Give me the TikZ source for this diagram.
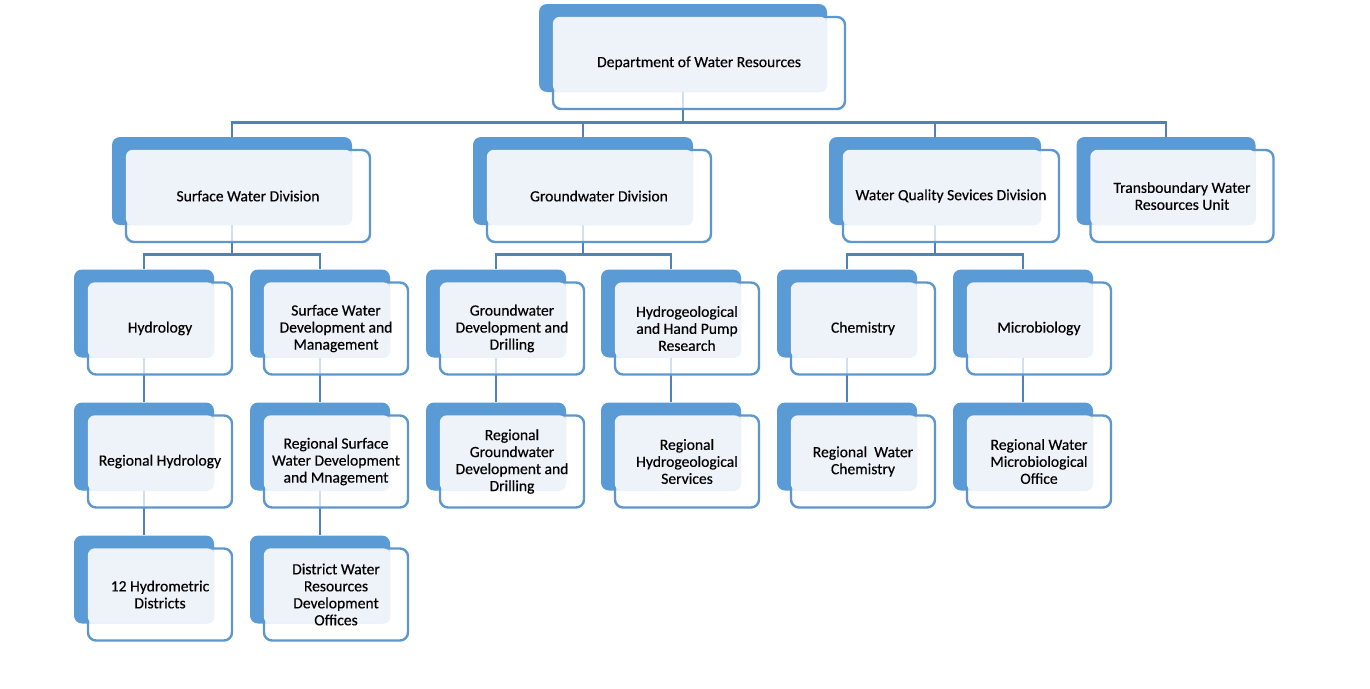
\documentclass[tikz,border=0pt]{standalone}
\usepackage{fontspec}
\setmainfont{Carlito}
\newfontfamily\boxfont[FakeBold=0.35]{Carlito}
\usetikzlibrary{calc}
\definecolor{backblue}{HTML}{5B9BD5}
\definecolor{edgeblue}{HTML}{5E97CE}
\definecolor{lineblue}{HTML}{4F81BD}
\definecolor{lightfill}{HTML}{EEF3FA}
\newcommand\frontof[3]{%
  \node[frontbox, minimum width=#2pt+4pt] (#1-f) at ($(#1.center)+(16,15)$) {};
  \fill[lightfill, rounded corners=7pt] ($(#1.north west)+(14,13)$) rectangle (#1.south east);
  \node[txt] (#1-t) at (#1-f.center) {#3};
}
\begin{document}
\begin{tikzpicture}[x=1pt,y=-1pt,
  backbox/.style={fill=backblue, rounded corners=8pt, minimum height=88pt, inner sep=0pt, draw=none},
  frontbox/.style={draw=edgeblue, line width=2.4pt, fill=white, fill opacity=0.75, rounded corners=8pt, minimum height=92pt, inner sep=0pt},
  conn/.style={draw=lineblue, line width=2.6pt},
  txt/.style={align=center, font=\boxfont\fontsize{15.6}{17}\selectfont, text=black, inner sep=0pt}]
\useasboundingbox[fill=white] (0,0) rectangle (1370,688);
% back boxes
\foreach \n/\x/\y/\w in {dwr/683/48/288, swd/232/181/240, gwd/583/181/220, wqd/935/181/212, tbu/1166/181/179,
  hyd/144/313.5/140, swdm/320/313.5/140, gwdd/496/313.5/140, hhp/671/313.5/140, chem/847/313.5/140, micro/1023/313.5/140,
  rhyd/144/446.5/140, rswd/320/446.5/140, rgwd/496/446.5/140, rhs/671/446.5/140, rwc/847/446.5/140, rwmo/1023/446.5/140,
  hdist/144/579.5/140, dwro/320/579.5/140}
  \node[backbox, minimum width=\w pt] (\n) at (\x,\y) {};
% connectors
\foreach \c in {swd,gwd,wqd,tbu}
  \draw[conn] (dwr.south) -- ++(0,30) -| (\c.north);
\foreach \p/\c in {swd/hyd, swd/swdm, gwd/gwdd, gwd/hhp, wqd/chem, wqd/micro}
  \draw[conn] (\p.south) -- ++(0,29) -| (\c.north);
\foreach \p/\c in {hyd/rhyd, swdm/rswd, gwdd/rgwd, hhp/rhs, chem/rwc, micro/rwmo, rhyd/hdist, rswd/dwro}
  \draw[conn] (\p.south) -- (\c.north);
% front boxes and texts
\frontof{dwr}{288}{Department of Water Resources}
\frontof{swd}{240}{Surface Water Division}
\frontof{gwd}{220}{Groundwater Division}
\frontof{wqd}{212}{Water Quality Sevices Division}
\frontof{tbu}{179}{Transboundary Water\\Resources Unit}
\frontof{hyd}{140}{Hydrology}
\frontof{swdm}{140}{Surface Water\\Development and\\Management}
\frontof{gwdd}{140}{Groundwater\\Development and\\Drilling}
\frontof{hhp}{140}{Hydrogeological\\and Hand Pump\\Research}
\frontof{chem}{140}{Chemistry}
\frontof{micro}{140}{Microbiology}
\frontof{rhyd}{140}{Regional Hydrology}
\frontof{rswd}{140}{Regional Surface\\Water Development\\and Mnagement}
\frontof{rgwd}{140}{Regional\\Groundwater\\Development and\\Drilling}
\frontof{rhs}{140}{Regional\\Hydrogeological\\Services}
\frontof{rwc}{140}{Regional\ \ Water\\Chemistry}
\frontof{rwmo}{140}{Regional Water\\Microbiological\\Office}
\frontof{hdist}{140}{12 Hydrometric\\Districts}
\frontof{dwro}{140}{District Water\\Resources\\Development\\Offices}
\end{tikzpicture}
\end{document}
